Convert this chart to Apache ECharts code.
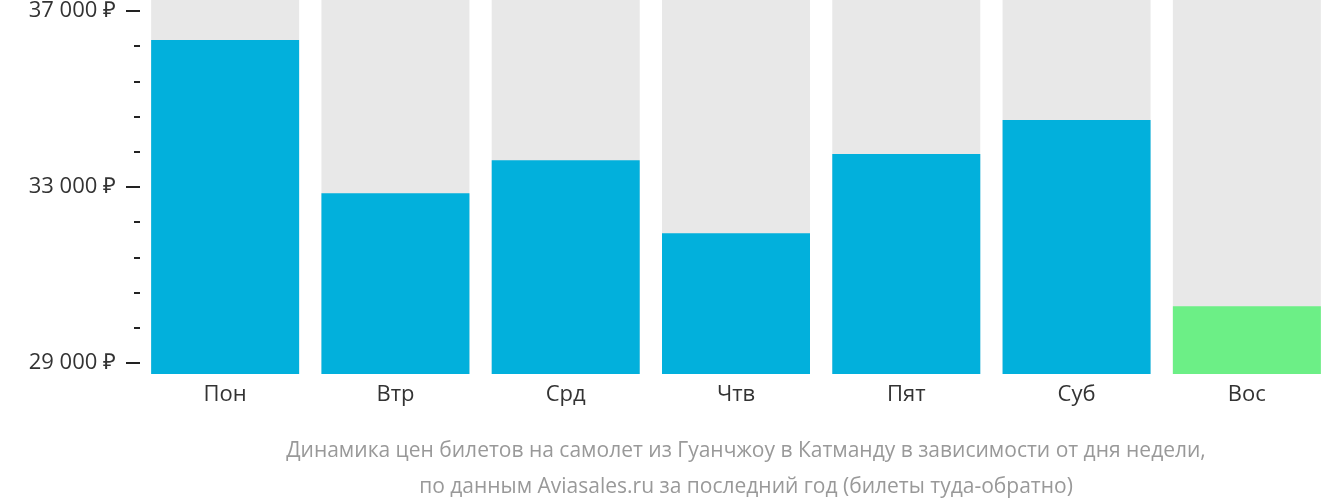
<!DOCTYPE html><html><head><meta charset="utf-8">
<script src="https://cdn.jsdelivr.net/npm/echarts@6/dist/echarts.min.js"></script>
<style>html,body{margin:0;padding:0;background:#fff}#c{width:1332px;height:502px}</style></head><body><div id="c"></div>
<script>
const categories=['Пон','Втр','Срд','Чтв','Пят','Суб','Вос'];
const prices=[36340,32860,33610,31950,33750,34520,30290];
const barColors=['#02b0dc','#02b0dc','#02b0dc','#02b0dc','#02b0dc','#02b0dc','#6cef86'];
const tickBase=29000;
const chart=echarts.init(document.getElementById('c'));
chart.setOption({
 animation:false,
 title:{text:'Динамика цен билетов на самолет из Гуанчжоу в Катманду в зависимости от дня недели,\nпо данным Aviasales.ru за последний год (билеты туда-обратно)',
  left:741,top:428,textAlign:'center',textStyle:{color:'#999',fontSize:21,fontWeight:'normal',fontFamily:'Open Sans',lineHeight:36}},
 grid:[{left:140,width:1204,top:0,bottom:128},{left:140,width:1204,top:11,height:352}],
 xAxis:[{type:'category',data:categories,gridIndex:0,axisLine:{show:false},axisTick:{show:false},
   axisLabel:{fontSize:22,color:'#333',fontFamily:'Open Sans',margin:10}},
  {type:'value',gridIndex:1,show:false}],
 yAxis:[{type:'value',gridIndex:0,min:28750,max:37250,show:false},
  {type:'value',gridIndex:1,min:0,max:8000,interval:4000,position:'left',axisLine:{show:false},splitLine:{show:false},
   axisTick:{show:true,length:14,lineStyle:{color:'#222',width:2}},
   axisLabel:{margin:24,fontSize:22,color:'#333',fontFamily:'Open Sans',formatter:v=>String(v+tickBase).replace(/\B(?=(\d{3})+$)/g,' ')+' ₽'}},
  {type:'value',gridIndex:1,min:0,max:8000,interval:800,position:'left',axisLine:{show:false},splitLine:{show:false},
   axisTick:{show:true,length:6,lineStyle:{color:'#222',width:2}},axisLabel:{show:false}}],
 series:[{type:'bar',xAxisIndex:0,yAxisIndex:0,barWidth:148,data:prices.map((v,i)=>({value:v,itemStyle:{color:barColors[i]}})),
  showBackground:true,backgroundStyle:{color:'#e8e8e8'}}]
});
</script></body></html>
